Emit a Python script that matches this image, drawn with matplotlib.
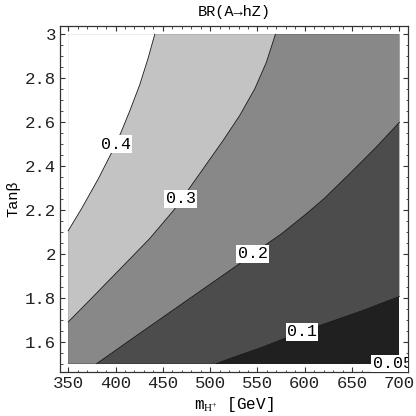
import numpy as np
import matplotlib.pyplot as plt
from matplotlib.patches import Polygon
from matplotlib.ticker import MultipleLocator

# contour lines: (m_H+ [GeV], tan beta)
line_04_m = [350, 364, 381.6, 395.8, 405.5, 415, 425.6, 434.4, 441.5]
line_04_t = [2.105, 2.205, 2.34, 2.46, 2.55, 2.65, 2.77, 2.89, 3.0]

line_03_m = [350, 372.9, 408, 436.2, 460.8, 476.6, 492.4, 513.5, 531.1, 547, 559.3, 569]
line_03_t = [1.69, 1.79, 1.945, 2.07, 2.195, 2.29, 2.386, 2.515, 2.629, 2.75, 2.871, 3.0]

line_02_m = [380, 425.6, 478.4, 531, 544.8, 575, 601.5, 620, 647.2, 675.3, 700]
line_02_t = [1.5, 1.638, 1.797, 1.955, 2.0, 2.09, 2.182, 2.25, 2.364, 2.485, 2.599]

line_01_m = [506.5, 520.6, 555.7, 597, 661.2, 700]
line_01_t = [1.5, 1.523, 1.576, 1.645, 1.742, 1.806]

lines = [(line_01_m, line_01_t), (line_02_m, line_02_t),
         (line_03_m, line_03_t), (line_04_m, line_04_t)]
# colour of each band, lowest values first
band_colors = ['#202020', '#4c4c4c', '#888888', '#c3c3c3', '#ffffff']

# contour labels
label_m = [597, 544.8, 469, 400, 693]
label_t = [1.645, 2.0, 2.25, 2.5, 1.5]
label_txt = ['0.1', '0.2', '0.3', '0.4', '0.05']

m_min, m_max = 350, 700
t_min, t_max = 1.5, 3.0

plt.rcParams['font.family'] = ['Liberation Mono', 'DejaVu Sans Mono']
plt.rcParams['mathtext.fontset'] = 'custom'
plt.rcParams['mathtext.rm'] = 'Liberation Serif'

fig = plt.figure(figsize=(4.16, 4.16), dpi=100)
ax = fig.add_axes([0.144, 0.106, 0.836, 0.8315])

# lowest band fills the whole data rectangle
ax.add_patch(Polygon([(m_min, t_min), (m_max, t_min), (m_max, t_max), (m_min, t_max)],
                     closed=True, facecolor=band_colors[0], edgecolor='none', zorder=1))

for i, (lm, lt) in enumerate(lines):
    pts = list(zip(lm, lt))
    if lm[-1] == m_max:
        pts.append((m_max, t_max))
    pts.append((m_min, t_max))
    if lt[0] == t_min:
        pts.append((m_min, t_min))
    ax.add_patch(Polygon(pts, closed=True, facecolor=band_colors[i + 1],
                         edgecolor='none', zorder=2 + i))
    ax.plot(lm, lt, color='#1a1a1a', lw=0.6, zorder=10)

for x, y, s in zip(label_m, label_t, label_txt):
    ax.text(x, y, s, ha='center', va='center', fontsize=12, zorder=20,
            clip_on=True,
            bbox=dict(facecolor='white', edgecolor='none', pad=1.0))

pad_m = 0.025 * (m_max - m_min)
pad_t = 0.025 * (t_max - t_min)
ax.set_xlim(m_min - pad_m, m_max + pad_m)
ax.set_ylim(t_min - pad_t, t_max + pad_t)

ax.xaxis.set_major_locator(MultipleLocator(50))
ax.xaxis.set_minor_locator(MultipleLocator(10))
ax.yaxis.set_minor_locator(MultipleLocator(0.05))
ax.set_yticks([1.6, 1.8, 2.0, 2.2, 2.4, 2.6, 2.8, 3.0])
ax.set_yticklabels(['1.6', '1.8', '2', '2.2', '2.4', '2.6', '2.8', '3'])
ax.tick_params(which='both', direction='in', top=True, right=True,
               color='#333333', labelsize=12.5, labelcolor='#222222')
ax.tick_params(which='major', length=3.5, width=0.8)
ax.tick_params(which='minor', length=1.8, width=0.6)
ax.tick_params(axis='x', pad=3)
ax.tick_params(axis='y', pad=3)
for sp in ax.spines.values():
    sp.set_color('#333333')
    sp.set_linewidth(0.9)

ax.set_title('BR(A\u2192hZ)', fontsize=11, pad=7)
ax.set_xlabel(r'm$_{\mathrm{H}^{+}}$ [GeV]', fontsize=11.5, labelpad=3)
ax.set_ylabel('Tan\u03b2', fontsize=11, labelpad=3)

fig.savefig('out.png', dpi=100)
